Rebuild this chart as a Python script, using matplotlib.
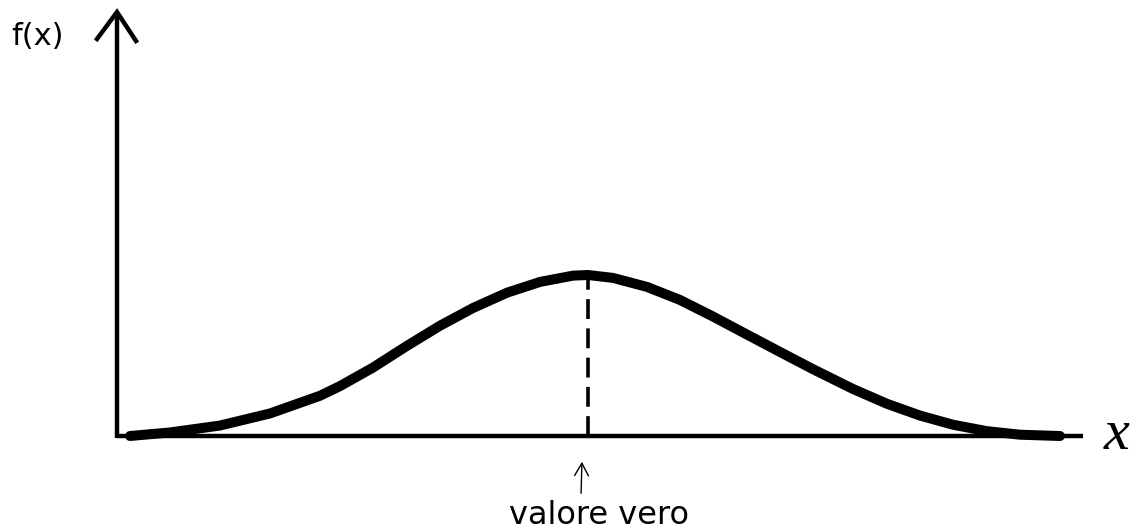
import matplotlib
matplotlib.use("Agg")
import matplotlib.pyplot as plt

# Curve points (x relative to the true value, y relative to peak height)
curve_x = [-4.58, -4.18, -3.68, -3.18, -2.68, -2.48, -2.15, -1.81, -1.48, -1.15, -0.81,
           -0.48, -0.15, 0.0, 0.25, 0.59, 0.92, 1.25, 1.59, 1.92, 2.25, 2.65, 2.99,
           3.32, 3.65, 3.99, 4.32, 4.72]
curve_y = [0.0, 0.022, 0.065, 0.140, 0.250, 0.310, 0.425, 0.560, 0.685, 0.795, 0.890,
           0.957, 0.996, 1.0, 0.982, 0.926, 0.845, 0.742, 0.630, 0.522, 0.415, 0.292, 0.200,
           0.127, 0.070, 0.030, 0.008, 0.0]
true_value = 0.0
peak_value = 1.0
y_label = "f(x)"
x_label = "x"
marker_label = "valore vero"

W, H = 1135, 531
fig = plt.figure(figsize=(W / 100, H / 100), dpi=100)
ax = fig.add_axes([0, 0, 1, 1])
# 1 x-unit = 100 px, 1 y-unit = 161 px; axis origin at px (117, 436)
px2x = lambda px: (px - 588) / 100.0
py2y = lambda py: (436 - py) / 161.0
ax.set_xlim(px2x(0), px2x(W))
ax.set_ylim(py2y(H), py2y(0))
ax.axis("off")

x0, y0 = px2x(117), 0.0

# x axis
ax.plot([x0, px2x(1083)], [y0, y0], color="black", lw=3.2, solid_capstyle="butt", zorder=2)
# y axis with open arrowhead
ax.plot([x0, x0], [y0 - 0.01, py2y(14)], color="black", lw=3.2, solid_capstyle="butt", zorder=2)
ax.plot([px2x(97), x0, px2x(136)], [py2y(39), py2y(12), py2y(41)], color="black", lw=3.2,
        solid_joinstyle="miter", zorder=2)

# curve
ax.plot(curve_x, curve_y, color="black", lw=7.2, solid_capstyle="round",
        solid_joinstyle="round", zorder=3)

# dashed line at true value
ax.plot([true_value, true_value], [y0, peak_value], color="black", lw=2.6,
        linestyle=(0, (5.5, 2.6)), zorder=2)

# small arrow under axis
ax.annotate("", xy=(px2x(582), py2y(459)), xytext=(px2x(581), py2y(496)),
            arrowprops=dict(arrowstyle="->,head_length=0.9,head_width=0.5", color="black", lw=1.0))

ax.text(px2x(599), py2y(524), marker_label, ha="center", va="baseline",
        fontsize=23, family="DejaVu Sans", color="black")
ax.text(px2x(11), py2y(45), y_label, ha="left", va="baseline",
        fontsize=22, family="DejaVu Sans", color="black")
ax.text(px2x(1117), py2y(449), x_label, ha="center", va="baseline",
        fontsize=42, family="Liberation Serif", style="italic", color="black")

fig.savefig("out.png", dpi=100, facecolor="white")
